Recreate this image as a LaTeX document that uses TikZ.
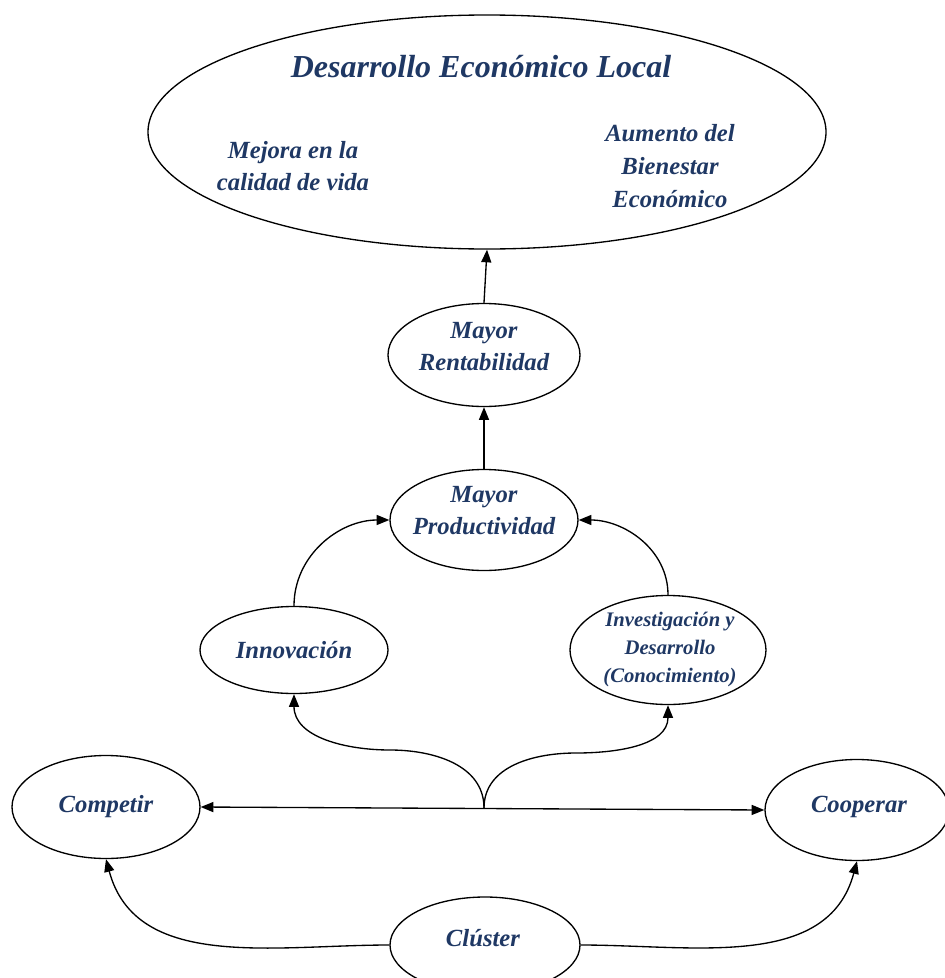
\documentclass[tikz,border=0pt]{standalone}
\usepackage{fontspec}
\setmainfont{Liberation Serif}
\usetikzlibrary{arrows.meta,shapes.geometric}
\definecolor{txtblue}{HTML}{1F3864}

\begin{document}
\begin{tikzpicture}[x=0.75pt, y=-0.75pt,
  oval/.style={draw, ellipse, line width=1pt, inner sep=0pt},
  lbl/.style={text=txtblue, align=center, font=\fontsize{18.5}{24}\selectfont\bfseries\itshape},
  >={Triangle[length=9.5pt,width=7.5pt]},
  arrow/.style={->, line width=1pt}
]
\useasboundingbox (0,0) rectangle (945,978);

% ellipses
\node[oval, minimum width=508.5pt, minimum height=175.5pt] (del) at (487,132) {};
\node[oval, minimum width=144pt, minimum height=77.25pt] (rent) at (484,355) {};
\node[oval, minimum width=141pt, minimum height=75.75pt] (prod) at (484,520) {};
\node[oval, minimum width=141pt, minimum height=65.25pt] (innov) at (294,650) {};
\node[oval, minimum width=147pt, minimum height=81.75pt] (invest) at (668,650) {};
\node[oval, minimum width=141pt, minimum height=77.25pt] (comp) at (106,807) {};
\node[oval, minimum width=138pt, minimum height=75.75pt] (coop) at (857,810) {};
\node[oval, minimum width=142.5pt, minimum height=72pt] (clus) at (485,945) {};

% texts
\node[lbl, font=\fontsize{24}{28}\selectfont\bfseries\itshape] (deltitle) at (481,67) {Desarrollo Económico Local};
\node[lbl] (calidad) at (293,166) {Mejora en la\\calidad de vida};
\node[lbl, font=\fontsize{18.5}{25}\selectfont\bfseries\itshape] (bienestar) at (670,166) {Aumento del\\Bienestar\\Económico};
\node[lbl] (renttxt) at (484,347) {Mayor\\Rentabilidad};
\node[lbl] (prodtxt) at (484,511) {Mayor\\Productividad};
\node[lbl] (innovtxt) at (294,650) {Innovación};
\node[lbl, font=\fontsize{15.5}{21}\selectfont\bfseries\itshape] (investtxt) at (670,650) {Investigación y\\Desarrollo\\(Conocimiento)};
\node[lbl] (comptxt) at (106,807) {Competir};
\node[lbl] (cooptxt) at (859,807) {Cooperar};
\node[lbl] (clustxt) at (483,938) {Clúster};

% connectors
\coordinate (junc) at (484,808);
\coordinate (bendl) at (390,750);
\coordinate (bendr) at (576,753);

\draw[arrow] (rent.north) -- (del.south);
\draw[arrow] (prod.north) -- (rent.south);
\draw[arrow] (innov.north) to[out=90,in=180] (prod.west);
\draw[arrow] (invest.north) to[out=90,in=0] (prod.east);
\draw[arrow] (junc) to[out=90,in=0] (bendl) to[out=180,in=-90] (innov.south);
\draw[arrow] (junc) to[out=90,in=180] (bendr) to[out=0,in=-90] (invest.south);
\draw[arrow, <->] (comp.east) -- (coop.west);
\draw[arrow] (clus.west) to[out=180,in=-75] (comp.south);
\draw[arrow] (clus.east) to[out=0,in=-105] (coop.south);
\end{tikzpicture}
\end{document}
